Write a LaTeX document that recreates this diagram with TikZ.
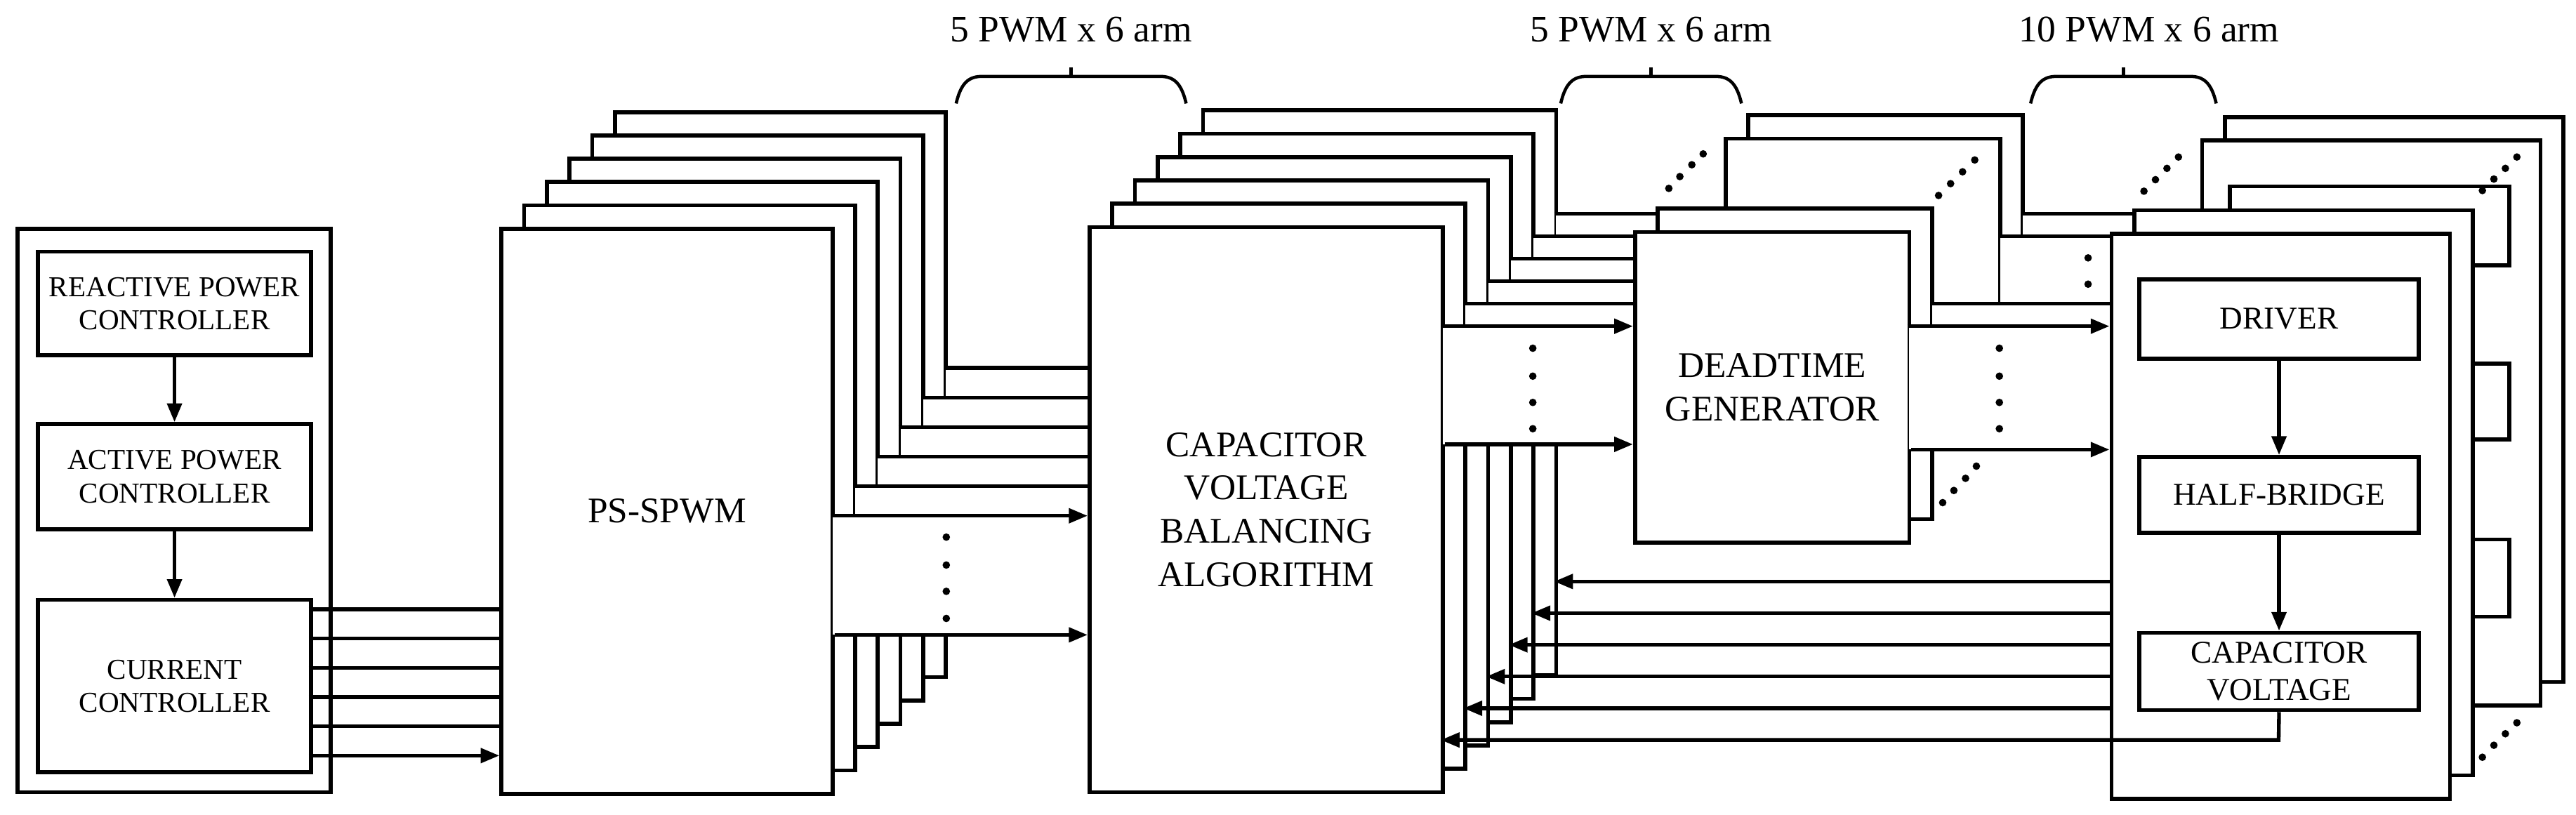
\documentclass[tikz,border=0pt]{standalone}
\usepackage{fontspec}
\setmainfont{Liberation Serif}
\usetikzlibrary{arrows.meta}
\newcommand\BX[7][lbl]{\node[box,#1,anchor=north west,inner sep=0pt,minimum width=#5*0.02cm,minimum height=#6*0.02cm] (#2) at (#3,#4) {#7};}
\begin{document}
\begin{tikzpicture}[x=0.02cm,y=-0.02cm,line width=1.3pt,
 box/.style={draw,fill=white,line width=1.4pt},
 arr/.style={-{Triangle[length=6.5pt,width=5pt]}},
 lbl/.style={font=\fontsize{12.5}{15}\selectfont,align=center},
 sml/.style={font=\fontsize{10}{11.5}\selectfont,align=center},
 smf/.style={font=\fontsize{11}{13}\selectfont,align=center},
 toplbl/.style={font=\fontsize{13}{15}\selectfont},
 dot/.style={fill,circle,inner sep=0pt,minimum size=2.6pt},
 band/.style={fill=white,draw=none},
 brace/.style={line width=1.1pt}]
\useasboundingbox (0,0) rectangle (1568,496);
% braces and labels
\foreach \a/\b in {582/722,950/1060,1236/1349}{
  \pgfmathsetmacro\c{(\a+\b)/2}
  \draw[brace] (\a,63) .. controls (\a+3,50) and (\a+8,46.5) .. (\a+16,46.5) -- (\b-16,46.5) .. controls (\b-8,46.5) and (\b-3,50) .. (\b,63);
  \draw[brace] (\c,46.5) -- (\c,41);
}
\node[toplbl] (t1) at (652,18) {5 PWM x 6 arm};
\node[toplbl] (t2) at (1005,18) {5 PWM x 6 arm};
\node[toplbl] (t3) at (1308,18) {10 PWM x 6 arm};
% left block
\BX{outer}{9.6}{138}{190.4}{343}{}
\BX[sml]{rpc}{22}{152}{166}{63}{REACTIVE POWER\\CONTROLLER}
\BX[sml]{apc}{22}{257}{166}{64}{ACTIVE POWER\\CONTROLLER}
\BX[sml]{cc}{22}{364}{166}{105}{CURRENT\\CONTROLLER}
\draw[arr] (rpc) -- (apc);
\draw[arr] (apc) -- (cc);
% stacks, back to front
\foreach \k in {5,4,3,2,1,0}{
  \pgfmathsetmacro\ox{13.8*\k}
  \pgfmathsetmacro\oy{-14.2*\k}
  \pgfmathsetmacro\yin{460-17.8*\k}
  \pgfmathsetmacro\ya{314-18*\k}
  \pgfmathsetmacro\yb{198.6-13.7*\k}
  % PS-SPWM
  \BX{ps\k}{304+\ox}{138+\oy}{201.5}{344}{\ifnum\k=0 PS-SPWM\fi}
  \draw[arr] (188,\yin) -- (304+\ox,\yin);
  \fill[band] (506.7+\ox,\ya) rectangle (660.8+\ox,386.5);
  \draw[arr] (505.5+\ox,\ya) -- (662+\ox,\ya);
  % CVBA
  \BX{cv\k}{662+\ox}{137+\oy}{215}{344}{\ifnum\k=0 CAPACITOR\\VOLTAGE\\BALANCING\\ALGORITHM\fi}
  \fill[band] (878.2+\ox,\yb) rectangle (992.8+\ox,270.5);
  \draw[arr] (877+\ox,\yb) -- (994+\ox,\yb);
  \ifnum\k=2 \else\ifnum\k=3 \else
    % deadtime
    \BX{dt\k}{994+\ox}{140+\oy}{167}{189}{\ifnum\k=0 DEADTIME\\GENERATOR\fi}
    \fill[band] (1162.2+\ox,\yb) rectangle (1282.8+\ox,273.7);
    \draw[arr] (1161+\ox,\yb) -- (1284+\ox,\yb);
    % submodule
    \BX{sm\k}{1284+\ox}{141+\oy}{206}{344}{}
    \BX[smf]{drv\k}{1301+\ox}{169+\oy}{170}{48}{\ifodd\k \else DRIVER\fi}
    \BX[smf]{hb\k}{1301+\ox}{277+\oy}{170}{46}{\ifodd\k \else HALF-BRIDGE\fi}
    \BX[smf]{cap\k}{1301+\ox}{384+\oy}{170}{47}{\ifodd\k \else CAPACITOR\\VOLTAGE\fi}
    \draw[arr] (drv\k) -- (hb\k);
    \draw[arr] (hb\k) -- (cap\k);
  \fi\fi
}
% front bottom lines
\draw[arr] (ps0.east |- 0,386.5) -- (cv0.west |- 0,386.5);
\draw[arr] (cv0.east |- 0,270.5) -- (dt0.west |- 0,270.5);
\draw[arr] (dt0.east |- 0,273.7) -- (sm0.west |- 0,273.7);
% feedback
\coordinate (fb0) at (1387,450.5);
\draw[arr] (cap0.south) -- (fb0) -- (877,450.5);
\foreach \k in {1,...,5}{
  \pgfmathsetmacro\yf{450.5-19.3*\k}
  \draw[arr] (1284,\yf) -- (877+13.8*\k,\yf);
}
% dots
\foreach \y in {327,344,360,376.5}{\node[dot] at (576,\y) {};}
\foreach \y in {212,229,245,261}{\node[dot] at (933,\y) {}; \node[dot] at (1217,\y) {};}
\foreach \y in {157,173}{\node[dot] at (1271,\y) {};}
\foreach \x/\y in {1015.8/114.7,1022.5/107.5,1029.8/100.3,1036.7/93.7,
  1180/119,1187.3/111.8,1194.6/104.6,1202/97.4,
  1182.5/306,1189.3/298.6,1196.4/291.2,1203/283.8,
  1305/116.4,1312/109.4,1319/102.5,1326/95.6,
  1511/116,1518/109,1525/102.5,1532/95.6,
  1511/461,1518/453.7,1525/446.7,1532/440}{\node[dot] at (\x,\y) {};}
\end{tikzpicture}
\end{document}
